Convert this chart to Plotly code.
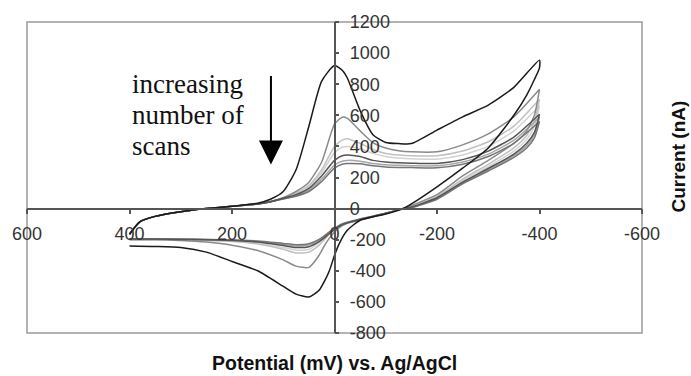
import plotly.graph_objects as go

# Potential grids (mV)
UP_MV = [400, 380, 350, 300, 250, 200, 150, 125, 100, 75, 50, 25, 0, -15, -25, -50, -75, -100, -125, -150, -200, -250, -300, -350, -400]
LOW_MV = [-400, -390, -375, -350, -300, -250, -200, -150, -134, -100, -50, -25, -10, 0, 10, 20, 30, 50, 75, 100, 150, 200, 250, 300, 350, 400]

# Scan 1 (black)
S1_UP = [-165, -85, -50, -20, 0, 15, 35, 60, 110, 250, 530, 820, 920, 890, 840, 630, 475, 425, 418, 418, 505, 590, 665, 780, 955]
S1_LOW = [905, 830, 730, 600, 390, 260, 140, 30, 0, -35, -75, -140, -220, -300, -400, -470, -525, -568, -550, -500, -400, -340, -280, -250, -243, -240]

# Subsequent scans (greys)
S2_UP = [-165, -85, -50, -20, 0, 15, 30, 45, 70, 110, 170, 300, 543, 588, 580, 500, 425, 390, 372, 365, 365, 410, 480, 590, 767]
S2_LOW = [767, 600, 500, 420, 310, 210, 90, 20, 0, -30, -75, -95, -120, -150, -190, -240, -300, -378, -370, -330, -270, -235, -215, -205, -200, -200]

S3_UP = [-165, -85, -50, -20, 0, 15, 30, 45, 70, 100, 150, 250, 400, 440, 450, 420, 380, 355, 345, 340, 340, 370, 430, 530, 703]
S3_LOW = [703, 560, 470, 390, 285, 190, 80, 15, 0, -30, -70, -90, -110, -135, -165, -200, -235, -280, -285, -262, -228, -212, -205, -200, -198, -198]

S4_UP = [-165, -85, -50, -20, 0, 15, 30, 45, 68, 95, 140, 230, 360, 395, 400, 385, 355, 335, 325, 320, 318, 345, 400, 500, 662]
S4_LOW = [662, 530, 445, 370, 270, 180, 75, 12, 0, -30, -68, -88, -108, -130, -158, -188, -218, -262, -266, -250, -222, -208, -203, -200, -198, -198]

S5_UP = [-165, -85, -50, -20, 0, 15, 30, 44, 66, 90, 130, 210, 310, 340, 345, 335, 310, 300, 295, 292, 290, 315, 370, 460, 607]
S5_LOW = [607, 490, 420, 350, 258, 170, 70, 10, 0, -32, -70, -92, -112, -135, -160, -188, -212, -245, -250, -238, -215, -205, -200, -198, -196, -196]

S6_UP = [-165, -85, -50, -20, 0, 15, 30, 44, 64, 85, 120, 190, 280, 305, 310, 305, 290, 282, 278, 276, 275, 300, 350, 440, 588]
S6_LOW = [588, 475, 405, 340, 250, 165, 65, 8, 0, -30, -68, -90, -110, -132, -155, -180, -205, -235, -240, -230, -212, -203, -199, -197, -196, -196]

S7_UP = [-165, -85, -50, -20, 0, 15, 30, 43, 62, 80, 110, 175, 260, 285, 290, 288, 275, 268, 265, 264, 262, 285, 335, 420, 560]
S7_LOW = [560, 455, 390, 330, 242, 160, 60, 6, 0, -30, -66, -88, -106, -128, -150, -175, -198, -226, -232, -224, -208, -202, -198, -196, -195, -195]

SCANS = [
    ("scan 4", S4_UP, S4_LOW, "#d2d2d2"),
    ("scan 3", S3_UP, S3_LOW, "#c0c0c0"),
    ("scan 6", S6_UP, S6_LOW, "#a6a6a6"),
    ("scan 2", S2_UP, S2_LOW, "#8a8a8a"),
    ("scan 7", S7_UP, S7_LOW, "#757575"),
    ("scan 5", S5_UP, S5_LOW, "#545454"),
    ("scan 1", S1_UP, S1_LOW, "#1a1a1a"),
]

X_TICKS = [600, 400, 200, 0, -200, -400, -600]
X_TICK_TEXT = ["600", "400", "200", "0", "-200", "-400", "-600"]
Y_TICKS = [-800, -600, -400, -200, 0, 200, 400, 600, 800, 1000, 1200]
Y_TICK_TEXT = ["-800", "-600", "-400", "-200", "0", "200", "400", "600", "800", "1000", "1200"]

fig = go.Figure()
for name, up, low, col in SCANS:
    fig.add_trace(go.Scatter(
        x=UP_MV + LOW_MV, y=up + low, mode="lines", name=name,
        line=dict(color=col, width=1.5, shape="spline", smoothing=0.6),
    ))

tick_font = dict(family="Arial, Liberation Sans, sans-serif", size=18, color="#333333")
axis_col = "#555555"

fig.update_layout(
    width=691, height=376,
    margin=dict(l=27, r=49, t=19, b=43),
    paper_bgcolor="white", plot_bgcolor="white",
    showlegend=False,
    xaxis=dict(
        range=[600, -600], tickvals=X_TICKS, ticktext=X_TICK_TEXT,
        ticks="outside", ticklen=5, tickwidth=1.5, tickcolor=axis_col,
        showline=True, linecolor=axis_col, linewidth=1.5,
        anchor="free", position=0.4, showgrid=False, zeroline=False,
        tickfont=tick_font, ticklabelstandoff=4,
    ),
    yaxis=dict(
        range=[-800, 1200], tickvals=Y_TICKS, ticktext=Y_TICK_TEXT,
        side="right", ticks="outside", ticklen=4, tickwidth=1.5, tickcolor=axis_col,
        showline=True, linecolor=axis_col, linewidth=1.5,
        anchor="free", position=0.5, showgrid=False, zeroline=False,
        tickfont=tick_font, ticklabelstandoff=7,
    ),
)

fig.add_shape(type="rect", xref="paper", yref="paper", x0=0, x1=1, y0=0, y1=1,
              line=dict(color="#9a9a9a", width=1.5), layer="below")

title_font = dict(family="Arial, Liberation Sans, sans-serif", size=19.5, color="#111111")
fig.add_annotation(text="<b>Potential (mV) vs. Ag/AgCl</b>", xref="paper", yref="paper",
                   x=0.5, y=-0.095, xanchor="center", yanchor="middle",
                   showarrow=False, font=title_font)
fig.add_annotation(text="<b>Current (nA)</b>", xref="paper", yref="paper",
                   x=1.06, y=0.567, xanchor="center", yanchor="middle", textangle=-90,
                   showarrow=False, font=dict(family="Arial, Liberation Sans, sans-serif", size=19, color="#111111"))

serif = dict(family="Times New Roman, Liberation Serif, serif", size=27, color="#111111")
for line, yv in [("increasing", 800), ("number of", 600), ("scans", 400)]:
    fig.add_annotation(text=line, x=400, y=yv, xref="x", yref="y",
                       xanchor="left", yanchor="middle", showarrow=False, font=serif)

fig.add_annotation(x=124, y=283, ax=124, ay=862, xref="x", yref="y", axref="x", ayref="y",
                   text="", showarrow=True, arrowhead=2, arrowsize=2.4, arrowwidth=2,
                   arrowcolor="#000000", standoff=0)

fig.write_html("out.html", config={"displayModeBar": False},
               post_script="document.body.style.margin='0';document.body.style.overflow='hidden';")
